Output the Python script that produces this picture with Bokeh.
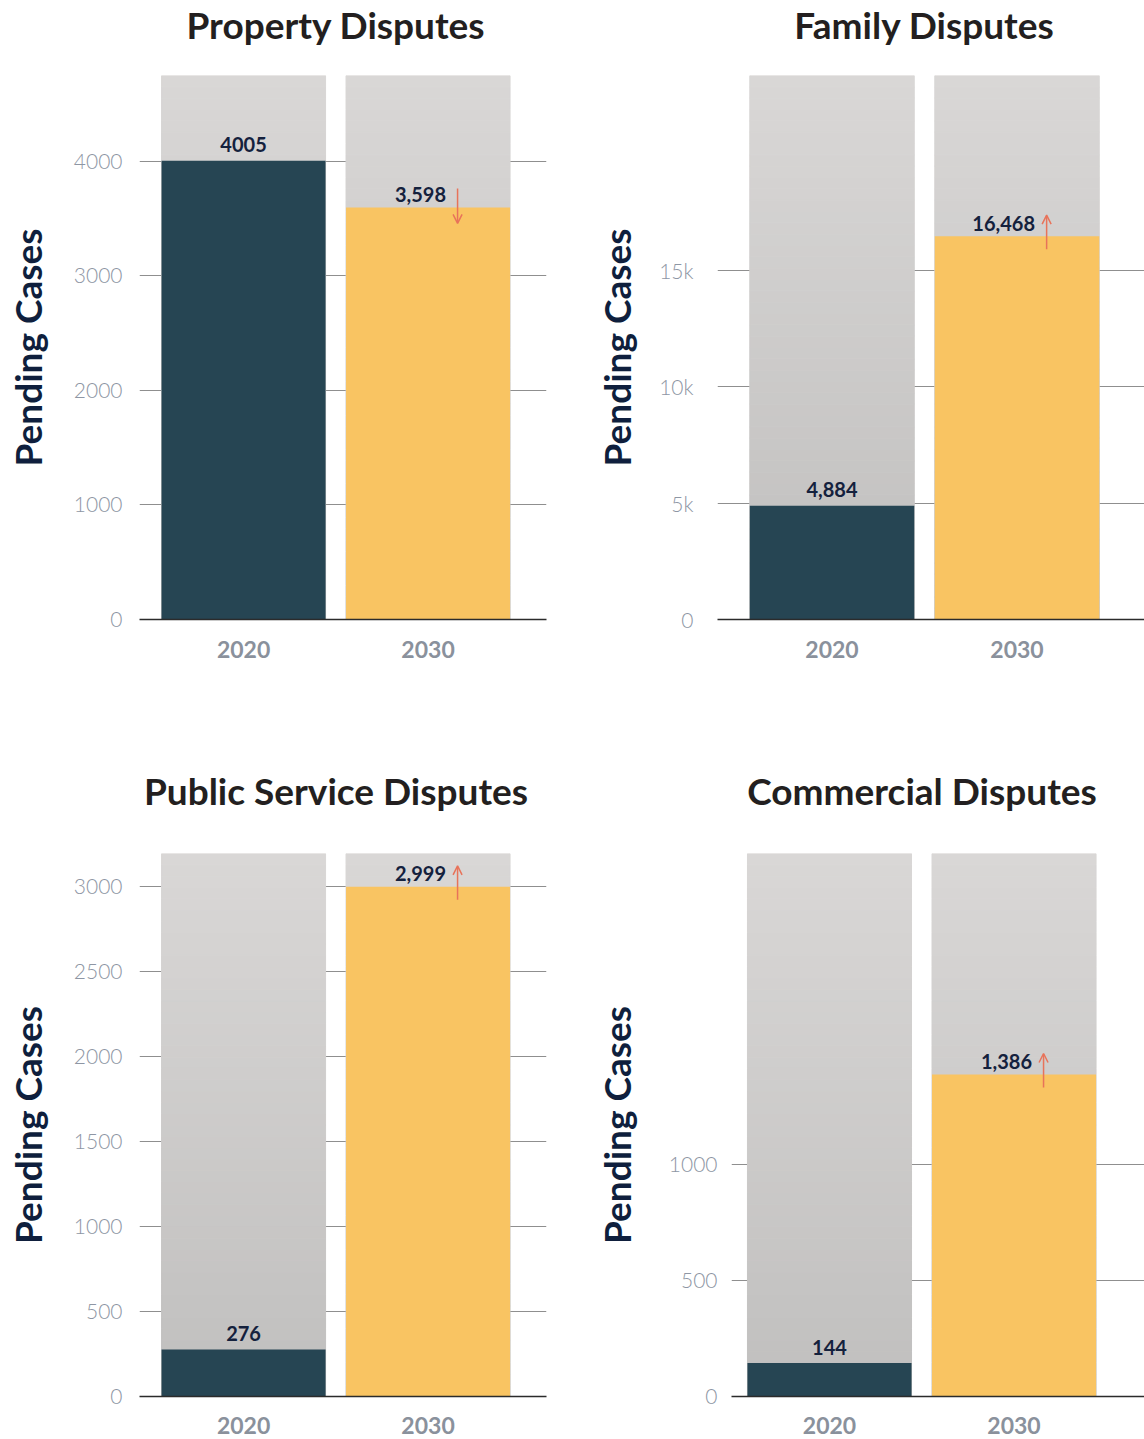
import math
import numpy as np
from bokeh.plotting import figure
from bokeh.models import FixedTicker, Arrow, OpenHead, Range1d
from bokeh.layouts import row, column
from bokeh.embed import file_html
from bokeh.resources import INLINE
from bokeh.core.properties import value

# ---------------- data ----------------
years = ["2020", "2030"]
titles = ["Property Disputes", "Family Disputes",
          "Public Service Disputes", "Commercial Disputes"]
cases_2020 = [4005, 4884, 276, 144]
cases_2030 = [3598, 16468, 2999, 1386]
labels_2020 = ["4005", "4,884", "276", "144"]
labels_2030 = ["3,598", "16,468", "2,999", "1,386"]
axis_max = [4750, 23370, 3195, 2337]
tick_values = [[0, 1000, 2000, 3000, 4000],
               [0, 5000, 10000, 15000],
               [0, 500, 1000, 1500, 2000, 2500, 3000],
               [0, 500, 1000]]
tick_labels = [["0", "1000", "2000", "3000", "4000"],
               ["0", "5k", "10k", "15k"],
               ["0", "500", "1000", "1500", "2000", "2500", "3000"],
               ["0", "500", "1000"]]
y_title = "Pending Cases"

# ---------------- style ----------------
DARK = "#264553"
YELLOW = "#f9c462"
GRAY_TOP = np.array([217, 215, 214])
GRAY_BOTTOM = np.array([192, 191, 190])
ARROW_C = "#e8735a"
BAR_W = 0.889
FONT = "Lato"

# title strip: width, height, title centre x, text anchor height above strip bottom
title_cfg = [
    dict(w=588, h=75, cx=335.5, base=51),
    dict(w=556, h=75, cx=336, base=51),
    dict(w=588, h=173, cx=335.5, base=63),
    dict(w=556, h=173, cx=333.5, base=63),
]
# chart panels
layout_cfg = [
    dict(w=588, h=605, left=139, right=42, bottom=61, x0=-0.564, x1=1.642,
         tick_stand=17, lab_stand=21, x_stand=21),
    dict(w=556, h=605, left=129, right=0, bottom=61, x0=-0.619, x1=1.689,
         tick_stand=24, lab_stand=17, x_stand=21),
    dict(w=588, h=586, left=139, right=42, bottom=43, x0=-0.564, x1=1.642,
         tick_stand=17, lab_stand=21, x_stand=20),
    dict(w=556, h=586, left=143, right=0, bottom=43, x0=-0.531, x1=1.707,
         tick_stand=14, lab_stand=27, x_stand=20),
]


def make_title(i):
    c = title_cfg[i]
    t = figure(width=c["w"], height=c["h"], x_range=Range1d(0, c["w"]),
               y_range=Range1d(0, c["h"]), output_backend="svg",
               toolbar_location=None, min_border=0)
    t.axis.visible = False
    t.grid.visible = False
    t.outline_line_color = None
    t.text(x=[c["cx"]], y=[c["base"]], text=[titles[i]],
           text_font=value(FONT), text_font_style="bold", text_font_size="37px",
           text_color="#231f20", text_align="center", text_baseline="alphabetic")
    return t


def make_panel(i):
    c = layout_cfg[i]
    ymax = axis_max[i]
    frame_h = c["h"] - c["bottom"]
    px = ymax / frame_h  # data units per pixel

    p = figure(width=c["w"], height=c["h"],
               x_range=Range1d(c["x0"], c["x1"]), y_range=Range1d(0, ymax),
               output_backend="svg", toolbar_location=None,
               min_border_left=c["left"], min_border_right=c["right"],
               min_border_top=0, min_border_bottom=c["bottom"])
    p.outline_line_color = None
    p.background_fill_color = "white"
    p.border_fill_color = "white"

    # gradient grey background bars
    n = 48
    edges = np.linspace(0, ymax, n + 1)
    cols = []
    for k in range(n):
        t = (k + 0.5) / n
        rgb = GRAY_BOTTOM + (GRAY_TOP - GRAY_BOTTOM) * t
        cols.append("#%02x%02x%02x" % tuple(int(round(v)) for v in rgb))
    xs = [0] * n + [1] * n
    p.vbar(x=xs, bottom=list(edges[:-1]) * 2, top=list(edges[1:]) * 2,
           width=BAR_W, fill_color=cols * 2, line_color=cols * 2, line_width=1)

    # value bars
    p.vbar(x=[0, 1], top=[cases_2020[i], cases_2030[i]], width=BAR_W,
           fill_color=[DARK, YELLOW], line_color=None)

    # value labels
    p.text(x=[0], y=[cases_2020[i]], text=[labels_2020[i]],
           text_font=value(FONT), text_font_style="bold", text_font_size="20px",
           text_color="#14213d", text_align="center", text_baseline="alphabetic",
           y_offset=-16)
    p.text(x=[1], y=[cases_2030[i]], text=[labels_2030[i]],
           text_font=value(FONT), text_font_style="bold", text_font_size="20px",
           text_color="#14213d", text_align="right", text_baseline="alphabetic",
           y_offset=-13, x_offset=18)

    # change arrow
    v = cases_2030[i]
    ax = 1 + 0.16
    if cases_2030[i] >= cases_2020[i]:
        ys, ye = v - 13 * px, v + 21 * px
    else:
        ys, ye = v + 19 * px, v - 16 * px
    p.add_layout(Arrow(end=OpenHead(size=9, line_color=ARROW_C, line_width=1.5),
                       x_start=ax, y_start=ys, x_end=ax, y_end=ye,
                       line_color=ARROW_C, line_width=1.5))

    # x axis
    p.xaxis.ticker = FixedTicker(ticks=[0, 1])
    p.xaxis.major_label_overrides = {0: years[0], 1: years[1]}
    p.xaxis.axis_line_color = "#2b2b2b"
    p.xaxis.axis_line_width = 1.5
    p.xaxis.major_tick_line_color = None
    p.xaxis.major_tick_out = 0
    p.xaxis.major_tick_in = 0
    p.xaxis.minor_tick_line_color = None
    p.xaxis.major_label_text_font = FONT
    p.xaxis.major_label_text_font_style = "bold"
    p.xaxis.major_label_text_font_size = "23px"
    p.xaxis.major_label_text_color = "#8a919c"
    p.xaxis.major_label_standoff = c["x_stand"]
    p.xgrid.visible = False

    # y axis
    p.yaxis.ticker = FixedTicker(ticks=tick_values[i])
    p.yaxis.major_label_overrides = dict(zip(tick_values[i], tick_labels[i]))
    p.yaxis.axis_line_color = None
    p.yaxis.major_tick_line_color = None
    p.yaxis.major_tick_out = 0
    p.yaxis.major_tick_in = 0
    p.yaxis.minor_tick_line_color = None
    p.yaxis.major_label_text_font = "Lato Light, Lato"
    p.yaxis.major_label_text_font_size = "21px"
    p.yaxis.major_label_text_color = "#8e96a4"
    p.yaxis.major_label_standoff = c["tick_stand"]
    p.yaxis.axis_label = y_title
    p.yaxis.axis_label_text_font = FONT
    p.yaxis.axis_label_text_font_style = "bold"
    p.yaxis.axis_label_text_font_size = "37px"
    p.yaxis.axis_label_text_color = "#0f1f3d"
    p.yaxis.axis_label_standoff = c["lab_stand"]

    p.ygrid.ticker = FixedTicker(ticks=tick_values[i])
    p.ygrid.grid_line_color = "#8f8f8f"
    p.ygrid.grid_line_width = 1
    return p


T = [make_title(i) for i in range(4)]
P = [make_panel(i) for i in range(4)]
layout = column(row(T[0], T[1]), row(P[0], P[1]),
                row(T[2], T[3]), row(P[2], P[3]))

open("out.html", "w").write(file_html(layout, INLINE))
